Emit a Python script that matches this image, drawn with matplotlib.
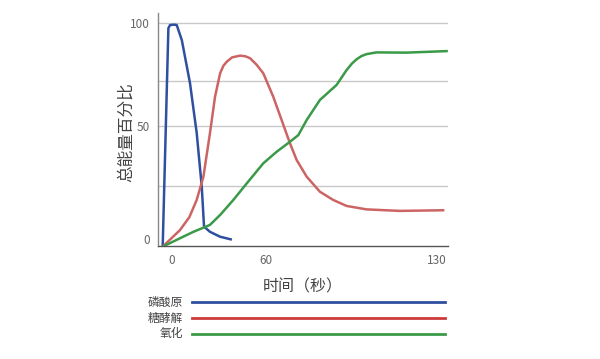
import matplotlib.pyplot as plt
from matplotlib.lines import Line2D

plt.rcParams['font.family'] = ['Noto Sans CJK SC', 'DejaVu Sans']

# time (s) and share of total energy (%)
pcr_t = [-4.6, -1.8, -1.0, 1.0, 2.3, 4.8, 8.8, 12.1, 14.6, 15.7, 18.6, 23.6, 28.8]
pcr_y = [-3.7, 97.7, 99.2, 99.4, 99.2, 92.2, 72.3, 49.1, 24.0, 5.6, 3.2, 0.9, -0.3]

gly_t = [-4.6, 3.9, 8.5, 12.1, 15.4, 18.6, 21.1, 23.6, 25.2, 26.9, 29.5, 33.4,
         36.0, 38.3, 41.5, 44.8, 49.7, 53.8, 57.9, 61.2, 66.1, 72.6, 79.1, 85.7,
         95.5, 111.9, 133.1]
gly_y = [-3.7, 4.0, 10.0, 18.0, 28.8, 48.9, 65.9, 76.8, 80.3, 82.2, 84.2, 85.0,
         84.7, 83.8, 80.8, 76.8, 65.9, 55.1, 44.3, 36.5, 28.8, 21.8, 18.0, 15.2,
         13.6, 12.9, 13.2]

ox_t = [-4.6, 3.9, 10.5, 15.4, 18.6, 23.6, 30.1, 36.7, 44.8, 51.4, 57.9, 62.0,
        66.1, 72.6, 80.8, 85.7, 88.3, 90.6, 93.0, 95.5, 100.3, 115.1, 134.8]
ox_y = [-3.7, 0.2, 3.2, 5.1, 6.4, 11.0, 18.0, 25.7, 35.0, 40.4, 45.0, 48.1,
        55.1, 64.4, 71.4, 78.3, 81.3, 83.3, 84.8, 85.7, 86.5, 86.4, 87.1]

series_names = ["磷酸原", "糖酵解", "氧化"]
x_tick_pos = [0, 46, 130]
x_tick_labels = ["0", "60", "130"]
y_ticks = [0, 50, 100]
grid_vals = [24.5, 52.5, 73, 100]

BLUE = "#2f4fa0"
RED_LINE = "#cc6464"
RED_KEY = "#cc3c3c"
GREEN = "#3a9a48"
TXT = "#444444"

fig = plt.figure(figsize=(6, 3.59), dpi=100)
ax = fig.add_axes([158 / 600, 1 - 246 / 359, 290 / 600, 233 / 359])

ax.set_xlim(-6.9, 135.5)
ax.set_ylim(-3.4, 104.8)

for g in grid_vals:
    ax.axhline(g, color="#c8c8c8", lw=1.0, zorder=0)

ax.plot(pcr_t, pcr_y, color=BLUE, lw=1.8, solid_joinstyle="round")
ax.plot(gly_t, gly_y, color=RED_LINE, lw=1.8, solid_joinstyle="round")
ax.plot(ox_t, ox_y, color=GREEN, lw=1.8, solid_joinstyle="round")

for s in ["top", "right"]:
    ax.spines[s].set_visible(False)
ax.spines["left"].set_color("#888888")
ax.spines["bottom"].set_color("#555555")
ax.spines["left"].set_linewidth(1.0)
ax.spines["bottom"].set_linewidth(1.0)

ax.set_xticks(x_tick_pos)
ax.set_xticklabels(x_tick_labels)
ax.set_yticks([0, 52.5, 100])
ax.set_yticklabels([str(v) for v in y_ticks])
ax.tick_params(length=0, labelsize=8.5, labelcolor="#666666", pad=6)

ax.set_xlabel("时间（秒）", fontsize=11.5, color=TXT, labelpad=8)
ax.set_ylabel("总能量百分比", fontsize=12, color=TXT)
ax.yaxis.set_label_coords(-0.08, 0.49)

# key below the chart
key = fig.add_axes([0, 0, 1, 1], facecolor="none")
key.set_xlim(0, 600)
key.set_ylim(359, 0)
key.axis("off")
key_colors = [BLUE, RED_KEY, GREEN]
key_y = [302, 318, 334]
for name, c, y in zip(series_names, key_colors, key_y):
    key.add_line(Line2D([192, 445], [y, y], color=c, lw=2))
    key.text(183, y, name, ha="right", va="center", fontsize=8.5, color=TXT)

fig.savefig("out.png", dpi=100)
